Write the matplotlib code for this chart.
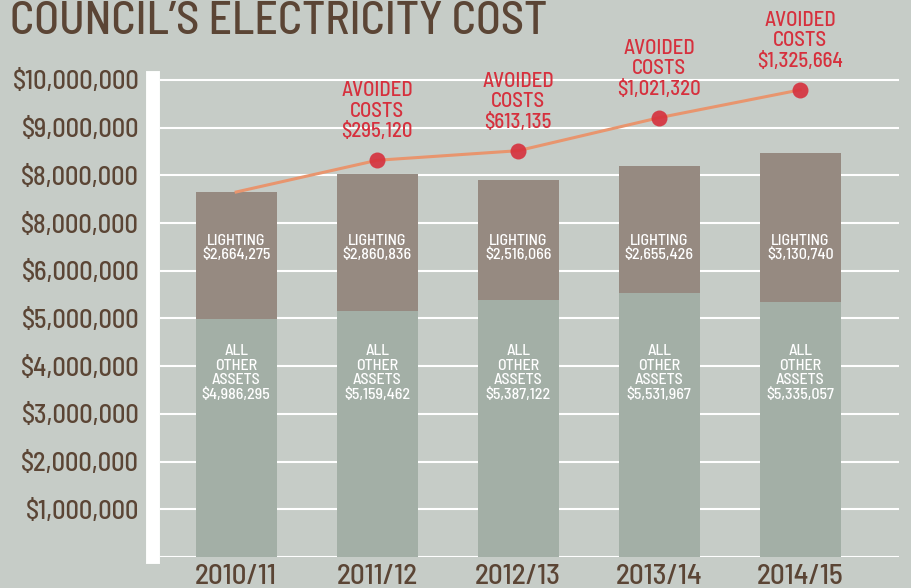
import numpy as np
import matplotlib.pyplot as plt

years = ["2010/11", "2011/12", "2012/13", "2013/14", "2014/15"]
other_assets = [4986295, 5159462, 5387122, 5531967, 5335057]
lighting = [2664275, 2860836, 2516066, 2655426, 3130740]
avoided = [0, 295120, 613135, 1021320, 1325664]
ytick_vals = [1e6, 2e6, 3e6, 4e6, 5e6, 6e6, 7e6, 8e6, 9e6, 10e6]
ytick_labels = ["$1,000,000", "$2,000,000", "$3,000,000", "$4,000,000", "$5,000,000",
                "$6,000,000", "$8,000,000", "$8,000,000", "$9,000,000", "$10,000,000"]

bg = "#c6ccc7"
brown = "#5b4535"
red = "#d6303d"
plt.rcParams['font.family'] = ["Barlow Semi Condensed", "IBM Plex Sans Condensed", "DejaVu Sans"]

fig = plt.figure(figsize=(9.11, 5.88), dpi=100, facecolor=bg)
ax = fig.add_axes([160/911, 31/588, 739/911, 479/588], facecolor=bg)

# thick white left bar, set before ticks (set_position resets tick styling)
for s in ["top", "right", "bottom"]:
    ax.spines[s].set_visible(False)
ax.spines["left"].set_color("white")
ax.spines["left"].set_linewidth(10)
ax.spines["left"].set_position(("outward", 5))

x = np.arange(len(years))
totals = np.array(other_assets) + np.array(lighting)
with_avoided = totals + np.array(avoided)

for v in ytick_vals + [0]:
    ax.axhline(v, color="white", lw=1.5, zorder=1)

ax.bar(x, other_assets, width=0.575, color="#a3afa6", zorder=2)
ax.bar(x, lighting, width=0.575, bottom=other_assets, color="#968a81", zorder=2)

for i in range(len(years)):
    ax.text(x[i], 6.48e6, f"LIGHTING\n${lighting[i]:,}", ha="center", va="center",
            color="white", fontsize=11.5, fontweight="medium", linespacing=1.05, zorder=3)
    ax.text(x[i], 3.86e6, f"ALL\nOTHER\nASSETS\n${other_assets[i]:,}", ha="center",
            va="center", color="white", fontsize=11.5, fontweight="medium",
            linespacing=1.05, zorder=3)

ax.plot(x, with_avoided, color="#e8956e", lw=2.2, zorder=4)
ax.plot(x[1:], with_avoided[1:], "o", color=red, ms=11.5, mec="none", alpha=0.9, zorder=5)
for i in range(1, len(years)):
    ax.annotate(f"AVOIDED\nCOSTS\n${avoided[i]:,}", (x[i], with_avoided[i]),
                xytext=(0, 19), textcoords="offset pixels", ha="center", va="bottom",
                color=red, fontsize=15, fontweight="medium", linespacing=1.1, zorder=6)

ax.set_xlim(-0.54, 4.70)
ax.set_ylim(0, 10.04e6)
ax.set_xticks(x)
ax.set_xticklabels(years, fontsize=21, color=brown, fontweight="medium")
ax.set_yticks(ytick_vals)
ax.set_yticklabels(ytick_labels, fontsize=19, color=brown, fontweight="medium")
ax.tick_params(axis="x", length=0, pad=5)
ax.tick_params(axis="y", length=0, pad=10)

fig.text(10/911, 1 - 34/588, "COUNCIL\u2019S ELECTRICITY COST", fontsize=33, color=brown,
         fontweight="medium", ha="left", va="baseline")

plt.savefig("out.png", dpi=100, facecolor=bg)
